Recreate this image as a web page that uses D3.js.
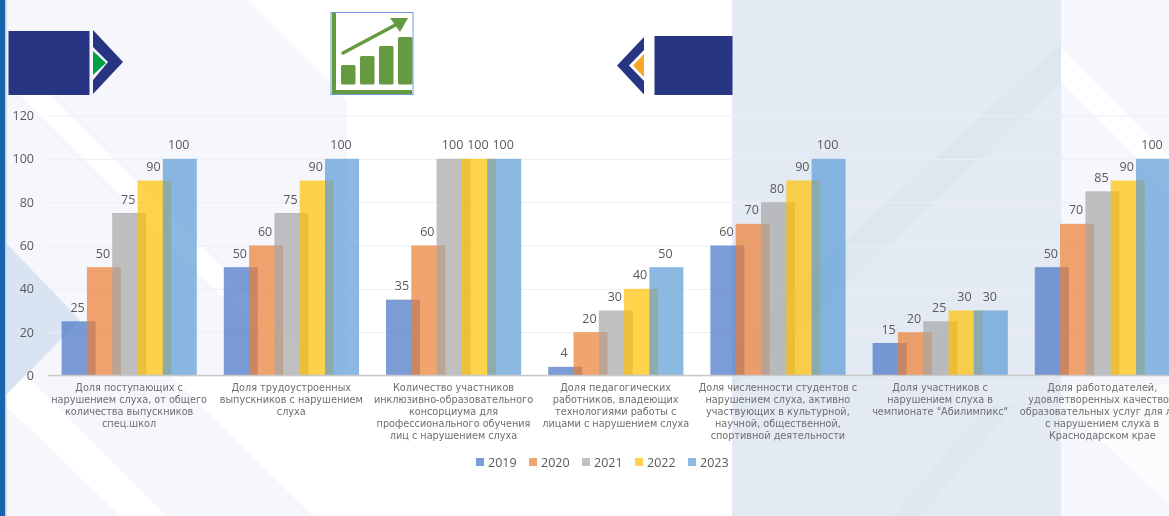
<!DOCTYPE html>
<html lang="ru">
<head>
<meta charset="utf-8">
<script src="https://cdn.jsdelivr.net/npm/d3@7"></script>
<style>
  html, body { margin: 0; padding: 0; background: #fff; overflow: hidden; }
  svg { display: block; filter: blur(0.45px); }
  .num { font-family: "Open Sans", sans-serif; font-size: 12.5px; fill: #595959; }
  .cat { font-family: "DejaVu Sans", sans-serif; font-size: 9.7px; fill: #6e6e6e; }
</style>
</head>
<body>
<svg id="chart" width="1169" height="516"></svg>
<script>
const categories = [
    ["Доля поступающих с", "нарушением слуха, от общего", "количества выпускников", "спец.школ"],
    ["Доля трудоустроенных", "выпускников с нарушением", "слуха"],
    ["Количество участников", "инклюзивно-образовательного", "консорциума для", "профессионального обучения", "лиц с нарушением слуха"],
    ["Доля педагогических", "работников, владеющих", "технологиями работы с", "лицами с нарушением слуха"],
    ["Доля численности студентов с", "нарушением слуха, активно", "участвующих в культурной,", "научной, общественной,", "спортивной деятельности"],
    ["Доля участников с", "нарушением слуха в", "чемпионате \"Абилимпикс\""],
    ["Доля работодателей,", "удовлетворенных качеством", "образовательных услуг для лиц", "с нарушением слуха в", "Краснодарском крае"]
];
const years = ["2019", "2020", "2021", "2022", "2023"];
const values2019 = [25, 50, 35, 4, 60, 15, 50];
const values2020 = [50, 60, 60, 20, 70, 20, 70];
const values2021 = [75, 75, 100, 30, 80, 25, 85];
const values2022 = [90, 90, 100, 40, 90, 30, 90];
const values2023 = [100, 100, 100, 50, 100, 30, 100];
const series = [values2019, values2020, values2021, values2022, values2023];
const colors = ["#4472c4", "#ed7d31", "#a5a5a5", "#ffc000", "#5b9bd5"];
const yTicks = [0, 20, 40, 60, 80, 100, 120];

const svg = d3.select("#chart");
const line = d3.line();

// slide background behind the chart
const bg = svg.append("g");
const poly = (pts, fill) => bg.append("path").attr("d", line(pts) + "Z").attr("fill", fill);

poly([[0, 0], [247, 0], [347, 100], [347, 375], [170, 375], [313, 516], [0, 516]], "#f5f7fc");
poly([[20, 95], [50, 95], [300, 345], [300, 375], [265, 340]], "#fff");
poly([[0, 400], [25, 375], [167, 516], [120, 516]], "#fff");
poly([[6, 243], [80, 320], [6, 395]], "#d9e4f3");
poly([[1061, 0], [1169, 0], [1169, 516], [1061, 516]], "#f5f7fc");
poly([[1061, 48], [1169, 156], [1169, 190], [1061, 82]], "#fff");
poly([[1100, 440], [1169, 505], [1169, 385], [1070, 385], [1070, 410]], "#fbfcfe");
poly([[732, 0], [1061, 0], [1061, 516], [732, 516]], "#e3eaf3");
poly([[1061, 43], [1061, 82], [840, 290], [732, 390], [732, 350], [840, 245]], "#dee6f0");
poly([[987, 405], [1015, 405], [920, 516], [893, 516]], "#dfe7f1");
bg.append("path").attr("d", line([[732, 65], [780, 0]])).attr("stroke", "#dde5ef").attr("fill", "none");

bg.append("rect").attr("x", 0).attr("y", 0).attr("width", 5).attr("height", 516).attr("fill", "#1a63ad");
bg.append("rect").attr("x", 5).attr("y", 0).attr("width", 1.5).attr("height", 516).attr("fill", "#b9d2ea");

// header shapes
const deco = svg.append("g");
const decoPoly = (pts, fill) => deco.append("path").attr("d", line(pts) + "Z").attr("fill", fill);
deco.append("rect").attr("x", 8.5).attr("y", 31).attr("width", 81).attr("height", 64).attr("fill", "#283583");
decoPoly([[93, 30], [123, 62], [93, 94], [93, 80], [108, 62], [93, 47]], "#283583");
decoPoly([[93, 51], [106, 63], [93, 75]], "#00a04a");
deco.append("rect").attr("x", 654.5).attr("y", 36).attr("width", 78).attr("height", 59).attr("fill", "#283583");
decoPoly([[644, 37], [617, 65.5], [644, 94.5], [644, 81], [629, 65.5], [644, 50]], "#283583");
decoPoly([[644, 54], [633, 65.5], [644, 77]], "#f9a825");

// growth icon
const icon = deco.append("g");
icon.append("rect").attr("x", 331).attr("y", 12.5).attr("width", 82).attr("height", 82).attr("fill", "#fff");
icon.append("path").attr("d", line([[334, 13], [334, 92], [412, 92]]))
    .attr("fill", "none").attr("stroke", "#669a40").attr("stroke-width", 4);
[[341, 65], [360, 56], [379, 46], [398, 37]].forEach(b => {
    icon.append("rect").attr("x", b[0]).attr("y", b[1]).attr("width", 14.5).attr("height", 84.5 - b[1])
        .attr("rx", 1.5).attr("fill", "#669a40");
});
icon.append("path").attr("d", line([[343, 53], [401, 22]]))
    .attr("fill", "none").attr("stroke", "#669a40").attr("stroke-width", 3.5).attr("stroke-linecap", "round");
icon.append("path").attr("d", line([[390, 18], [408, 18], [400, 32]]) + "Z").attr("fill", "#669a40");
icon.append("rect").attr("x", 331).attr("y", 12.5).attr("width", 82).attr("height", 82)
    .attr("fill", "none").attr("stroke", "#6f9be0");

// scales
const y = d3.scaleLinear().domain([0, 120]).range([375.5, 115.5]);
const x = d3.scaleBand().domain(d3.range(categories.length)).range([48, 48 + 162.2 * categories.length]);
const barWidth = 34;
const xYear = d3.scalePoint().domain(years).range([-67.5, 33.7]);

// grid and y axis
const yAxis = svg.append("g").attr("transform", "translate(48,0)")
    .call(d3.axisLeft(y).tickValues(yTicks).tickSize(-1121).tickPadding(14));
yAxis.select(".domain").remove();
yAxis.selectAll(".tick line").attr("stroke", "#eceef2");
yAxis.selectAll(".tick text").attr("class", "num").attr("fill", null);
yAxis.attr("font-family", null).attr("font-size", null);

// bars
const groups = svg.append("g").selectAll("g").data(years).join("g").attr("fill", (d, i) => colors[i]);
groups.selectAll("rect")
    .data((d, i) => series[i].map((v, c) => ({ year: d, v, c })))
    .join("rect")
    .attr("x", d => x(d.c) + x.bandwidth() / 2 + xYear(d.year))
    .attr("y", d => y(d.v))
    .attr("width", barWidth)
    .attr("height", d => y(0) - y(d.v))
    .attr("fill-opacity", 0.7);

// baseline
svg.append("line").attr("x1", 48).attr("x2", 1169).attr("y1", y(0)).attr("y2", y(0))
    .attr("stroke", "#c9c9c9").attr("stroke-width", 1.6);

// value labels
groups.selectAll("text")
    .data((d, i) => series[i].map((v, c) => ({ year: d, v, c })))
    .join("text")
    .attr("class", "num")
    .attr("text-anchor", "middle")
    .attr("x", d => x(d.c) + x.bandwidth() / 2 + xYear(d.year) + barWidth / 2 - 1)
    .attr("y", d => y(d.v) - 9.5)
    .text(d => d.v);

// category labels
const catLabels = svg.append("g").selectAll("text").data(categories).join("text")
    .attr("class", "cat")
    .attr("text-anchor", "middle")
    .attr("y", 391);
catLabels.selectAll("tspan").data((d, i) => d.map(t => ({ t, i }))).join("tspan")
    .attr("x", d => x(d.i) + x.bandwidth() / 2)
    .attr("dy", (d, i) => i ? 12 : 0)
    .text(d => d.t);

// legend
const legendX = d3.scalePoint().domain(years).range([476, 688]);
const legend = svg.append("g").selectAll("g").data(years).join("g")
    .attr("transform", d => `translate(${legendX(d)},0)`);
legend.append("rect").attr("y", 458).attr("width", 8).attr("height", 8)
    .attr("fill", (d, i) => colors[i]).attr("fill-opacity", 0.7);
legend.append("text").attr("class", "num").attr("x", 12).attr("y", 466.5).text(d => d);
</script>
</body>
</html>
